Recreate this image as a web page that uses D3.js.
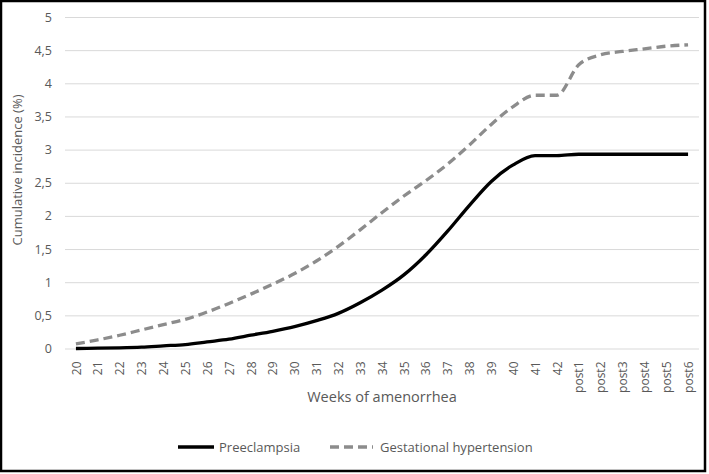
<!DOCTYPE html>
<html><head><meta charset="utf-8">
<script src="https://cdn.jsdelivr.net/npm/d3@7"></script>
<style>body{margin:0;background:#fff}svg{display:block}</style>
</head><body>
<svg id="c" width="709" height="474"></svg>
<script>
const categories = ["20","21","22","23","24","25","26","27","28","29","30","31","32","33","34","35","36","37","38","39","40","41","42","post1","post2","post3","post4","post5","post6"];
const preeclampsia = [0,0.005,0.01,0.02,0.04,0.06,0.1,0.14,0.2,0.26,0.33,0.42,0.53,0.69,0.88,1.11,1.41,1.77,2.16,2.52,2.77,2.91,2.91,2.93,2.93,2.93,2.93,2.93,2.93];
const gestational = [0.07,0.13,0.2,0.28,0.36,0.44,0.55,0.68,0.82,0.97,1.13,1.32,1.54,1.79,2.05,2.3,2.53,2.78,3.07,3.38,3.65,3.82,3.82,4.28,4.43,4.48,4.52,4.56,4.58];
const yTicks = [0,0.5,1,1.5,2,2.5,3,3.5,4,4.5,5];
const seriesNames = ["Preeclampsia","Gestational hypertension"];

const font = "'Open Sans', sans-serif";
const textColor = "#595959";
const svg = d3.select("#c");
const pLeft = 65, pRight = 699, pTop = 17, pBottom = 348.5;

const x = d3.scalePoint().domain(categories).range([pLeft, pRight]).padding(0.5);
const y = d3.scaleLinear().domain([0, 5]).range([pBottom, pTop]);
const loc = d3.formatLocale({decimal: ",", thousands: ".", grouping: [3], currency: ["", ""]});
const fmt = v => loc.format("~g")(v);

// y grid + labels
const gy = svg.append("g").attr("transform", `translate(${pLeft},0)`)
  .call(d3.axisLeft(y).tickValues(yTicks).tickSize(-(pRight - pLeft)).tickPadding(13).tickFormat(fmt));
gy.select(".domain").remove();
gy.selectAll("line").attr("stroke", "#d9d9d9").attr("stroke-width", 1);
gy.selectAll("text").attr("fill", textColor).style("font-family", font).style("font-size", "12.5px");

// x labels
const gx = svg.append("g").attr("transform", `translate(0,${pBottom})`)
  .call(d3.axisBottom(x).tickSize(0));
gx.select(".domain").remove();
gx.selectAll("text")
  .attr("transform", "rotate(-90)")
  .attr("x", -13).attr("y", 0).attr("dy", "0.35em")
  .style("text-anchor", "end")
  .attr("fill", textColor).style("font-family", font).style("font-size", "12px");

// titles
svg.append("text").attr("transform", "translate(22,170) rotate(-90)")
  .attr("text-anchor", "middle").attr("fill", textColor)
  .style("font-family", font).style("font-size", "13px").text("Cumulative incidence (%)");
svg.append("text").attr("x", 382).attr("y", 402)
  .attr("text-anchor", "middle").attr("fill", textColor)
  .style("font-family", font).style("font-size", "14.5px").text("Weeks of amenorrhea");

// lines
const line = d3.line().x((d, i) => x(categories[i])).y(d => y(d)).curve(d3.curveMonotoneX);
svg.append("path").datum(gestational).attr("d", line).attr("fill", "none")
  .attr("stroke", "#8c8c8c").attr("stroke-width", 3.3).attr("stroke-dasharray", "9,5");
svg.append("path").datum(preeclampsia).attr("d", line).attr("fill", "none")
  .attr("stroke", "#000").attr("stroke-width", 3.3);

// legend
const lg = svg.append("g");
lg.append("line").attr("x1", 178).attr("x2", 214).attr("y1", 447).attr("y2", 447)
  .attr("stroke", "#000").attr("stroke-width", 3.3);
lg.append("text").attr("x", 219).attr("y", 452).attr("fill", textColor)
  .style("font-family", font).style("font-size", "13px").text(seriesNames[0]);
lg.append("line").attr("x1", 330).attr("x2", 373).attr("y1", 447).attr("y2", 447)
  .attr("stroke", "#8c8c8c").attr("stroke-width", 3.3).attr("stroke-dasharray", "9,5");
lg.append("text").attr("x", 380).attr("y", 452).attr("fill", textColor)
  .style("font-family", font).style("font-size", "13px").text(seriesNames[1]);

// frame
svg.append("rect").attr("x", 1).attr("y", 1).attr("width", 704).attr("height", 470)
  .attr("fill", "none").attr("stroke", "#000").attr("stroke-width", 2.5);
</script>
</body></html>
